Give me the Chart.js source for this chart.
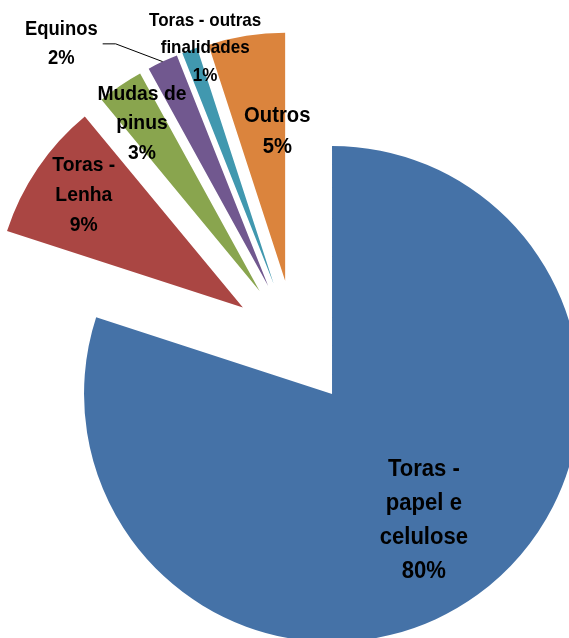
<!DOCTYPE html>
<html><head><meta charset="utf-8">
<script src="https://cdn.jsdelivr.net/npm/chart.js@4.4.1/dist/chart.umd.min.js"></script>
<style>html,body{margin:0;padding:0;background:#fff;overflow:hidden}canvas{display:block}</style>
</head><body>
<canvas id="c" width="569" height="638"></canvas>
<script>
// ---- data ----
const categories = [['Toras -','papel e','celulose'], ['Toras -','Lenha'], ['Mudas de','pinus'], ['Equinos'], ['Toras - outras','finalidades'], ['Outros']];
const values = [80, 9, 3, 2, 1, 5];
const percentLabels = ['80%','9%','3%','2%','1%','5%'];

// ---- style / layout ----
const colors = ['#4572A7','#AA4643','#89A54E','#71588F','#4198AF','#DB843D'];
const RADIUS = 248, EXPLODE = 63;
const labelLayout = [
  {da:0,     r:0.63,  size:24,   lh:33.7},
  {da:1.1,   r:0.786, size:21,   lh:30},
  {da:-0.9,  r:0.825, size:21,   lh:29.5},
  {da:-15.3, r:1.284, size:20,   lh:29, leader:true},
  {da:3.6,   r:0.99,  size:18.5, lh:27.5},
  {da:6,     r:0.605, size:22,   lh:31}
];
const SQUEEZE = 0.92;

// explode every slice outward along its mid-angle (Excel-style, no narrowing)
const explodeSlices = {
  id: 'explodeSlices',
  afterDatasetUpdate(chart) {
    chart.getDatasetMeta(0).data.forEach(arc => {
      if (arc._exploded) return;
      const orig = arc.draw.bind(arc);
      arc.draw = function (ctx, area) {
        const mid = (this.startAngle + this.endAngle) / 2;
        ctx.save();
        ctx.translate(Math.cos(mid) * EXPLODE, Math.sin(mid) * EXPLODE);
        orig(ctx, area);
        ctx.restore();
      };
      arc._exploded = true;
    });
  }
};

const sliceLabels = {
  id: 'sliceLabels',
  afterDatasetsDraw(chart) {
    const ctx = chart.ctx;
    const meta = chart.getDatasetMeta(0);
    const R = meta.controller.outerRadius;
    meta.data.forEach((arc, i) => {
      const L = labelLayout[i];
      const mid = (arc.startAngle + arc.endAngle) / 2;
      const ax = arc.x + Math.cos(mid) * EXPLODE, ay = arc.y + Math.sin(mid) * EXPLODE;
      const a = mid + L.da * Math.PI / 180;
      const cx = ax + Math.cos(a) * L.r * R, cy = ay + Math.sin(a) * L.r * R;
      const lines = [...categories[i], percentLabels[i]];
      ctx.save();
      ctx.font = `bold ${L.size}px "Liberation Sans", Arial, sans-serif`;
      ctx.fillStyle = '#000';
      ctx.textAlign = 'center';
      ctx.textBaseline = 'middle';
      const y0 = cy - (lines.length - 1) * L.lh / 2;
      lines.forEach((t, k) => {
        ctx.save();
        ctx.translate(cx, y0 + k * L.lh);
        ctx.scale(SQUEEZE, 1);
        ctx.fillText(t, 0, 0);
        ctx.restore();
      });
      if (L.leader) {
        const w = Math.max(...lines.map(t => ctx.measureText(t).width)) * SQUEEZE;
        const sx = cx + w / 2 + 5, sy = cy;
        const ex = ax + Math.cos(mid) * R, ey = ay + Math.sin(mid) * R;
        ctx.beginPath();
        ctx.moveTo(sx, sy);
        ctx.lineTo(sx + 13, sy);
        ctx.lineTo(ex, ey);
        ctx.strokeStyle = '#000';
        ctx.lineWidth = 1;
        ctx.stroke();
      }
      ctx.restore();
    });
  }
};

new Chart(document.getElementById('c'), {
  type: 'pie',
  data: {
    labels: categories.map(c => c.join(' ')),
    datasets: [{
      data: values,
      backgroundColor: colors,
      borderWidth: 0,
      offset: 0,
      hoverOffset: 0,
      radius: RADIUS
    }]
  },
  options: {
    responsive: false,
    animation: false,
    events: [],
    layout: { padding: { left: 21, right: 0, top: 48, bottom: 0 } },
    plugins: { legend: { display: false }, tooltip: { enabled: false } }
  },
  plugins: [explodeSlices, sliceLabels]
});
</script>
</body></html>
